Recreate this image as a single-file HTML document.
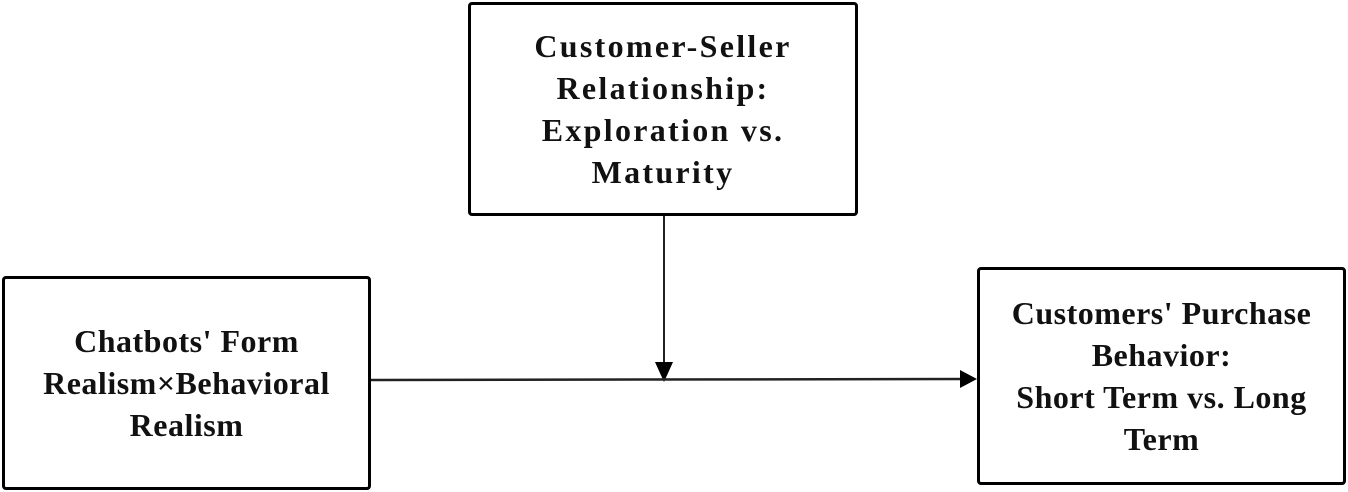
<!DOCTYPE html>
<html><head><style>
body{margin:0;width:1348px;height:492px;background:#fff;position:relative;overflow:hidden;font-family:"Liberation Serif",serif;}
.b{position:absolute;border:3px solid #000;border-radius:4px;box-sizing:border-box;display:flex;align-items:center;justify-content:center;text-align:center;font-size:32px;line-height:42px;color:#111;font-weight:bold;letter-spacing:0.5px;white-space:nowrap}
</style></head><body>
<div class="b" style="left:468px;top:2px;width:390px;height:214px;letter-spacing:2.3px">Customer-Seller<br>Relationship:<br>Exploration vs.<br>Maturity</div>
<div class="b" style="left:2px;top:276px;width:369px;height:214px;">Chatbots' Form<br>Realism×Behavioral<br>Realism</div>
<div class="b" style="left:977px;top:267px;width:369px;height:218px;">Customers' Purchase<br>Behavior:<br>Short Term vs. Long<br>Term</div>
<svg width="1348" height="492" style="position:absolute;left:0;top:0">
<line x1="664" y1="216" x2="664" y2="364" stroke="#222" stroke-width="2"/>
<polygon points="655,362 673,362 664,382" fill="#000"/>
<line x1="371" y1="380" x2="965" y2="379" stroke="#222" stroke-width="2.5"/>
<polygon points="960,370 977,379 960,388" fill="#000"/>
</svg>
</body></html>
